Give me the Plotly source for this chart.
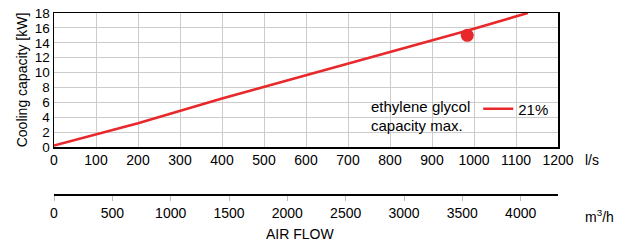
import plotly.graph_objects as go

# Data
flow_ls = [0, 200, 400, 600, 800, 1000, 1128]
capacity_kw = [0.2, 3.2, 6.5, 9.6, 12.8, 15.9, 18.0]
max_flow_ls = [984]
max_capacity_kw = [15.0]
x_ticks_ls = list(range(0, 1201, 100))
y_ticks_kw = list(range(0, 19, 2))
x_ticks_m3h = list(range(0, 4001, 500))
M3H_PER_LS = 3.6

RED = "#e8282b"
FONT = "Liberation Sans, Arial, sans-serif"

W, H = 626, 242
T, B = 13, 10
plot_h = H - T - B
y_bottom_px = 147
axis2_px = 195
dom_bottom = (H - B - y_bottom_px) / plot_h
pos2 = (H - B - axis2_px) / plot_h


def py(px):
    return (H - B - px) / plot_h


def pxx(px):
    return (px - 54) / 504


fig = go.Figure()
fig.add_trace(go.Scatter(x=flow_ls, y=capacity_kw, mode="lines",
                         line=dict(color=RED, width=2.6), name="21%",
                         hoverinfo="skip"))
fig.add_trace(go.Scatter(x=max_flow_ls, y=max_capacity_kw, mode="markers",
                         marker=dict(color=RED, size=13), showlegend=False,
                         hoverinfo="skip"))
fig.add_trace(go.Scatter(x=[0, 1200 * M3H_PER_LS], y=[None, None], xaxis="x2",
                         yaxis="y", mode="lines", showlegend=False, hoverinfo="skip"))

fig.update_layout(
    width=W, height=H,
    margin=dict(l=54, r=68, t=T, b=B, autoexpand=False),
    paper_bgcolor="white", plot_bgcolor="white",
    font=dict(family=FONT, size=14, color="black"),
    xaxis=dict(range=[0, 1200], tickvals=x_ticks_ls, showgrid=True,
               gridcolor="#cccccc", gridwidth=1, zeroline=False,
               showline=True, linecolor="black", linewidth=1.5, mirror=True,
               ticks="", tickfont=dict(size=14), automargin=False),
    xaxis2=dict(range=[0, 1200 * M3H_PER_LS], overlaying="x", anchor="free",
                position=pos2, side="bottom", tickvals=x_ticks_m3h,
                showgrid=False, zeroline=False, showline=True,
                linecolor="black", linewidth=2, ticks="outside", ticklen=5,
                tickcolor="#bbbbbb", tickwidth=1, tickfont=dict(size=14),
                automargin=False),
    yaxis=dict(range=[0, 18], tickvals=y_ticks_kw, domain=[dom_bottom, 1],
               showgrid=True, gridcolor="#cccccc", gridwidth=1, zeroline=False,
               showline=True, linecolor="black", linewidth=1.5, mirror=True,
               ticks="", ticklen=0, tickfont=dict(size=13.5), automargin=False,
               title=dict(text="Cooling capacity [kW]", font=dict(size=14),
                          standoff=4)),
    legend=dict(x=pxx(369), y=py(109),
                xanchor="left", yanchor="middle", bgcolor="rgba(0,0,0,0)",
                borderwidth=0, font=dict(size=15),
                title=dict(text="ethylene glycol", side="left",
                           font=dict(size=15)),
                itemwidth=30),
    showlegend=True,
)

fig.add_annotation(text="capacity max.", xref="paper", yref="paper",
                   x=pxx(369), y=py(125),
                   xanchor="left", yanchor="middle", showarrow=False,
                   font=dict(size=15))
fig.add_annotation(text="l/s", xref="paper", yref="paper",
                   x=pxx(583), y=py(160),
                   xanchor="left", yanchor="middle", showarrow=False,
                   font=dict(size=14))
fig.add_annotation(text="m<sup>3</sup>/h", xref="paper", yref="paper",
                   x=pxx(583), y=py(216),
                   xanchor="left", yanchor="middle", showarrow=False,
                   font=dict(size=14))
fig.add_annotation(text="AIR FLOW", xref="paper", yref="paper",
                   x=pxx(300), y=py(234),
                   xanchor="center", yanchor="middle", showarrow=False,
                   font=dict(size=14))

fig.write_html("out.html",
               config={"displayModeBar": False, "staticPlot": True},
               post_script="document.body.style.margin='0';"
                           "document.body.style.overflow='hidden';")
